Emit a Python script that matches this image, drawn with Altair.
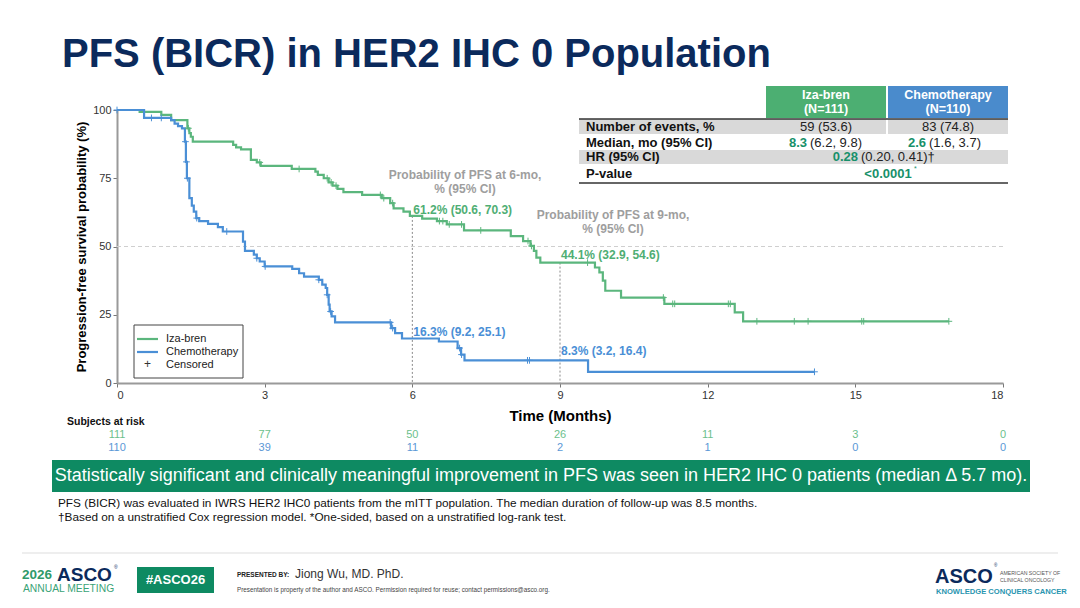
import altair as alt
import pandas as pd
import numpy as np

# ---------------- data ----------------
iza_t = [0, 0.46, 0.9, 1.1, 1.43, 1.47, 1.5, 1.54, 2.36, 2.42, 2.52, 2.72, 2.84, 2.92, 3.55,
         4.03, 4.08, 4.2, 4.3, 4.38, 4.48, 4.6, 4.98, 5.38, 5.55, 5.62, 5.82, 5.95, 6.2, 6.5,
         6.7, 7.05, 8.0, 8.25, 8.4, 8.47, 8.52, 8.6, 9.71, 9.8, 9.87, 9.92, 10.24, 11.12,
         12.55, 12.72]
iza_s = [100, 99.3, 98.2, 96.3, 93.3, 91.5, 90.2, 88.4, 87.2, 86.3, 85.6, 81.7, 80.8, 79.5, 78.4,
         77.4, 76.2, 75.0, 73.5, 72.3, 71.1, 69.9, 68.9, 67.7, 65.9, 64.0, 62.8, 61.2, 60.2, 59.3,
         58.1, 55.9, 53.8, 52.0, 50.2, 48.4, 45.9, 44.1, 42.3, 40.5, 37.5, 33.8, 31.3, 29.0,
         25.9, 22.6]
iza_end = 16.9
chemo_t = [0, 0.55, 1.1, 1.17, 1.24, 1.32, 1.38, 1.4, 1.42, 1.47, 1.52, 1.56, 1.61, 1.67, 1.85,
           2.05, 2.15, 2.56, 2.6, 2.78, 2.84, 2.9, 3.0, 3.56, 3.7, 3.8, 4.1, 4.17, 4.24, 4.27,
           4.3, 4.32, 4.36, 4.43, 5.57, 5.65, 5.79, 6.54, 6.92, 6.99, 7.06, 9.57]
chemo_s = [100, 97.1, 96.3, 95.0, 94.1, 93.3, 88.4, 81.0, 75.0, 67.7, 65.0, 62.8, 60.4, 59.3, 58.3,
           57.1, 55.5, 51.8, 48.4, 47.0, 45.7, 44.5, 42.7, 41.8, 40.2, 39.0, 37.8, 36.0, 34.8, 32.3,
           28.7, 26.2, 24.4, 22.2, 20.1, 18.3, 16.3, 15.2, 12.8, 10.4, 8.3, 4.1]
chemo_end = 14.17
iza_cens = [1.45, 2.9, 3.7, 4.27, 4.35, 4.45, 5.35, 5.42, 5.6, 6.55, 6.62, 6.75, 7.0, 7.39,
            8.35, 8.42, 9.56, 11.1, 11.29, 11.33, 12.42, 12.46, 13.0, 13.76, 14.04, 15.13,
            15.17, 16.9]
chemo_cens = [0.0, 0.7, 0.9, 1.39, 1.41, 1.43, 1.62, 2.23, 2.84, 3.01, 4.1, 4.27, 4.34,
              5.55, 5.6, 6.96, 7.0, 8.34, 8.38, 14.17]
risk_times = [0, 3, 6, 9, 12, 15, 18]
iza_risk = [111, 77, 50, 26, 11, 3, 0]
chemo_risk = [110, 39, 11, 2, 1, 0, 0]
landmark_t = [6, 9]
iza_landmark = [61.2, 44.1]
chemo_landmark = [16.3, 8.3]
iza_landmark_txt = ["61.2% (50.6, 70.3)", "44.1% (32.9, 54.6)"]
chemo_landmark_txt = ["16.3% (9.2, 25.1)", "8.3% (3.2, 16.4)"]
x_ticks = [0, 3, 6, 9, 12, 15, 18]
y_ticks = [0, 25, 50, 75, 100]

# ---------------- style ----------------
GREEN = "#5bb67d"
BLUE = "#4a8fd6"
GREEN_TXT = "#4fae74"
DGREEN = "#17906a"
NAVY = "#0b2a5c"
GRAYTXT = "#9e9e9e"
FONT = "Liberation Sans"
NARROW = "Liberation Sans Narrow, Arial Narrow, Liberation Sans"
OX, OY = 117, 110          # plot-area origin in slide pixels
PW, PH = 886, 273


def step_df(times, surv, end, grp):
    t = list(times) + [end]
    s = list(surv) + [surv[-1]]
    return pd.DataFrame({"t": t, "s": s, "g": grp})


def cens_df(times, surv, cens, grp):
    tt = np.array(times)
    ss = np.array(surv)
    idx = np.searchsorted(tt, np.array(cens), side="right") - 1
    return pd.DataFrame({"t": cens, "s": ss[idx], "g": grp})


curves = pd.concat([step_df(iza_t, iza_s, iza_end, "Iza-bren"),
                    step_df(chemo_t, chemo_s, chemo_end, "Chemotherapy")])
cens = pd.concat([cens_df(iza_t, iza_s, iza_cens, "Iza-bren"),
                  cens_df(chemo_t, chemo_s, chemo_cens, "Chemotherapy")])

color_scale = alt.Scale(domain=["Iza-bren", "Chemotherapy"], range=[GREEN, BLUE])

X_ENC = alt.X("t:Q", scale=alt.Scale(domain=[0, 18], nice=False, zero=False),
              axis=alt.Axis(values=x_ticks, title="Time (Months)", grid=False,
                            domainColor="#9a9a9a", domainWidth=2, tickColor="#777",
                            tickSize=4, labelFontSize=11, labelColor="#333", labelFont=FONT,
                            titleFont=FONT, titleFontSize=15, titleFontWeight="bold",
                            titleColor="#000", titlePadding=8, labelPadding=2))
Y_ENC = alt.Y("s:Q", scale=alt.Scale(domain=[0, 100], nice=False),
              axis=alt.Axis(values=y_ticks, title="Progression-free survival probability (%)",
                            grid=False, domainColor="#9a9a9a", domainWidth=2, tickColor="#777",
                            tickSize=4, labelFontSize=11, labelColor="#333", labelFont=FONT,
                            titleFont=FONT, titleFontSize=13, titleFontWeight="bold",
                            titleColor="#000", titlePadding=4, labelPadding=2))

layers = []


def txt(x, y, s, size=12, color="#000", weight="normal", align="left", font=FONT,
        baseline="middle"):
    layers.append(
        alt.Chart(pd.DataFrame({"v": [s]})).mark_text(
            align=align, baseline=baseline, fontSize=size, color=color,
            fontWeight=weight, font=font
        ).encode(x=alt.value(x - OX), y=alt.value(y - OY), text="v:N"))


def rect(x1, y1, x2, y2, color):
    layers.append(
        alt.Chart(pd.DataFrame({"v": [0]})).mark_rect(color=color).encode(
            x=alt.value(x1 - OX), x2=alt.value(x2 - OX),
            y=alt.value(y1 - OY), y2=alt.value(y2 - OY)))


def hline(x1, x2, y, color, width=1.0, dash=None):
    kw = dict(color=color, strokeWidth=width)
    if dash:
        kw["strokeDash"] = dash
    layers.append(
        alt.Chart(pd.DataFrame({"v": [0]})).mark_rule(**kw).encode(
            x=alt.value(x1 - OX), x2=alt.value(x2 - OX),
            y=alt.value(y - OY), y2=alt.value(y - OY)))


# reference lines
ref50 = pd.DataFrame({"t": [0], "t2": [18], "s": [50]})
layers.append(alt.Chart(ref50).mark_rule(color="#cfcfcf", strokeDash=[4, 3], strokeWidth=1)
              .encode(x=X_ENC, x2="t2:Q", y=Y_ENC))
lm = pd.DataFrame({"t": landmark_t, "s": iza_landmark, "s0": [0, 0]})
layers.append(alt.Chart(lm).mark_rule(color="#8a8a8a", strokeDash=[2, 2], strokeWidth=1)
              .encode(x=X_ENC, y=Y_ENC, y2="s0:Q"))

# KM curves
layers.append(alt.Chart(curves).mark_line(interpolate="step-after", strokeWidth=2.2)
              .encode(x=X_ENC, y=Y_ENC,
                      color=alt.Color("g:N", scale=color_scale, legend=None),
                      detail="g:N"))
layers.append(alt.Chart(cens).mark_point(shape="M-1,0L1,0M0,-1L0,1", size=45, filled=False,
                                         strokeWidth=1, opacity=1)
              .encode(x=X_ENC, y=Y_ENC,
                      color=alt.Color("g:N", scale=color_scale, legend=None)))

# landmark annotations
txt(465, 175, "Probability of PFS at 6-mo,", 12, GRAYTXT, "bold", "center")
txt(465, 189, "% (95% CI)", 12, GRAYTXT, "bold", "center")
txt(613, 215, "Probability of PFS at 9-mo,", 12, GRAYTXT, "bold", "center")
txt(613, 229, "% (95% CI)", 12, GRAYTXT, "bold", "center")
lm_txt = pd.DataFrame({"t": landmark_t, "v": iza_landmark_txt, "s": [63.4, 46.9]})
layers.append(alt.Chart(lm_txt).mark_text(align="left", baseline="middle", dx=1, fontSize=12,
                                          fontWeight="bold", color=GREEN_TXT, font=FONT)
              .encode(x=X_ENC, y=Y_ENC, text="v:N"))
lm_txt2 = pd.DataFrame({"t": landmark_t, "v": chemo_landmark_txt, "s": [18.8, 11.6]})
layers.append(alt.Chart(lm_txt2).mark_text(align="left", baseline="middle", dx=1, fontSize=12,
                                           fontWeight="bold", color=BLUE, font=FONT)
              .encode(x=X_ENC, y=Y_ENC, text="v:N"))

# legend box
layers.append(alt.Chart(pd.DataFrame({"v": [0]})).mark_rect(fill="white", stroke="#444",
                                                              strokeWidth=1)
              .encode(x=alt.value(134 - OX), x2=alt.value(243 - OX),
                      y=alt.value(325 - OY), y2=alt.value(378 - OY)))
hline(137, 158, 339, GREEN, 2.2)
hline(137, 158, 352, BLUE, 2.2)
txt(147.5, 364, "+", 12, "#333", "normal", "center")
txt(166, 339, "Iza-bren", 11, "#222")
txt(166, 352, "Chemotherapy", 11, "#222")
txt(166, 365, "Censored", 11, "#222")

# risk table
txt(67, 422, "Subjects at risk", 10.5, "#111", "bold", "left", NARROW)
rk = pd.DataFrame({"t": risk_times, "a": iza_risk, "b": chemo_risk})
layers.append(alt.Chart(rk).mark_text(fontSize=11, color="#6cbf8c", font=NARROW, baseline="middle")
              .encode(x=X_ENC, y=alt.value(435 - OY), text="a:N"))
layers.append(alt.Chart(rk).mark_text(fontSize=11, color="#5b98d6", font=NARROW, baseline="middle")
              .encode(x=X_ENC, y=alt.value(448 - OY), text="b:N"))

# summary table
rect(766, 86, 886, 118, "#4caf72")
rect(888, 86, 1008, 118, "#4a8bcc")
txt(826, 95, "Iza-bren", 12.5, "white", "bold", "center")
txt(826, 109, "(N=111)", 12.5, "white", "bold", "center")
txt(948, 95, "Chemotherapy", 12.5, "white", "bold", "center")
txt(948, 109, "(N=110)", 12.5, "white", "bold", "center")
rect(579, 119, 886, 134, "#d9d9d9")
rect(888, 119, 1008, 134, "#d9d9d9")
rect(579, 150, 1008, 164, "#d9d9d9")
hline(579, 1008, 119, "#333", 1.5)
hline(579, 1008, 183, "#333", 1.5)
txt(586, 127, "Number of events, %", 13, "#111", "bold")
txt(586, 143, "Median, mo (95% CI)", 13, "#111", "bold")
txt(586, 157, "HR (95% CI)", 13, "#111", "bold")
txt(586, 174, "P-value", 13, "#111", "bold")
txt(826, 127, "59 (53.6)", 13, "#222", "normal", "center")
txt(948, 127, "83 (74.8)", 13, "#222", "normal", "center")
txt(807, 143, "8.3", 13, DGREEN, "bold", "right")
txt(810, 143, "(6.2, 9.8)", 13, "#222", "normal", "left")
txt(926, 143, "2.6", 13, DGREEN, "bold", "right")
txt(929, 143, "(1.6, 3.7)", 13, "#222", "normal", "left")
txt(858, 157, "0.28", 13, DGREEN, "bold", "right")
txt(861, 157, "(0.20, 0.41)†", 13, "#222", "normal", "left")
txt(888, 174, "<0.0001", 13, DGREEN, "bold", "center")
txt(914, 169, "*", 7, DGREEN, "normal", "left")

# title
txt(62, 55, "PFS (BICR) in HER2 IHC 0 Population", 40, NAVY, "bold")

# banner + footnotes
rect(52, 460, 1030, 492, "#0e8a62")
txt(541, 476, "Statistically significant and clinically meaningful improvement in PFS was seen in "
              "HER2 IHC 0 patients (median \u0394 5.7 mo).", 18, "white", "normal", "center", NARROW)
txt(58, 503, "PFS (BICR) was evaluated in IWRS HER2 IHC0 patients from the mITT population. "
             "The median duration of follow-up was 8.5 months.", 11.8, "#111", "normal", "left", NARROW)
txt(58, 517, "\u2020Based on a unstratified Cox regression model. *One-sided, based on a unstratified "
             "log-rank test.", 11.8, "#111", "normal", "left", NARROW)

# footer
hline(22, 1058, 553, "#dddddd", 1)
txt(22, 575, "2026", 13.5, "#2f9a6a", "bold")
txt(57, 575, "ASCO", 19, NAVY, "bold")
txt(114, 567, "\u00ae", 5, NAVY)
txt(23, 589, "ANNUAL MEETING", 10.3, "#3aa377", "normal")
rect(137, 567, 214, 593, "#0e8a62")
txt(175.5, 580, "#ASCO26", 13, "white", "bold", "center")
txt(237, 575, "PRESENTED BY:", 6.5, "#222", "bold")
txt(295, 574, "Jiong Wu, MD. PhD.", 12, "#333", "normal", "left", NARROW)
txt(237, 590, "Presentation is property of the author and ASCO. Permission required for reuse; "
              "contact permissions@asco.org.", 6.3, "#444", "normal", "left", NARROW)
txt(935, 577, "ASCO", 20, NAVY, "bold")
txt(994, 566, "\u00ae", 4.5, NAVY)
txt(1000, 573, "AMERICAN SOCIETY OF", 5.2, "#555")
txt(1000, 580, "CLINICAL ONCOLOGY", 5.2, "#555")
txt(936, 592, "KNOWLEDGE CONQUERS CANCER", 7.6, "#2a95b0", "bold")

chart = alt.layer(*layers).properties(
    width=PW, height=PH,
    padding={"left": OX, "top": OY, "right": 1080 - OX - PW, "bottom": 608 - OY - PH},
    autosize=alt.AutoSizeParams(type="none"),
    background="white",
).configure_view(stroke=None)

chart.save("out.html", embed_options={"renderer": "svg", "actions": False})
